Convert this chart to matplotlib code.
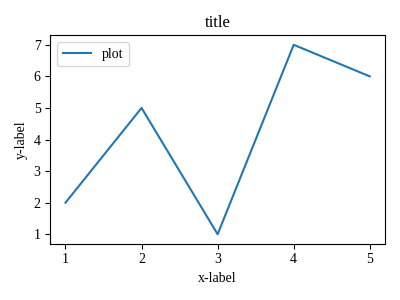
import matplotlib
matplotlib.use("Agg")
import matplotlib.pyplot as plt

plt.rcParams["font.family"] = ["Liberation Serif", "DejaVu Serif"]

x = [1, 2, 3, 4, 5]
y = [2, 5, 1, 7, 6]

fig, ax = plt.subplots(figsize=(4, 3), dpi=100)
ax.plot(x, y, label="plot")
ax.set_title("title")
ax.set_xlabel("x-label")
ax.set_ylabel("y-label")
ax.legend(loc="upper left")
fig.tight_layout()
fig.savefig("out.png")
